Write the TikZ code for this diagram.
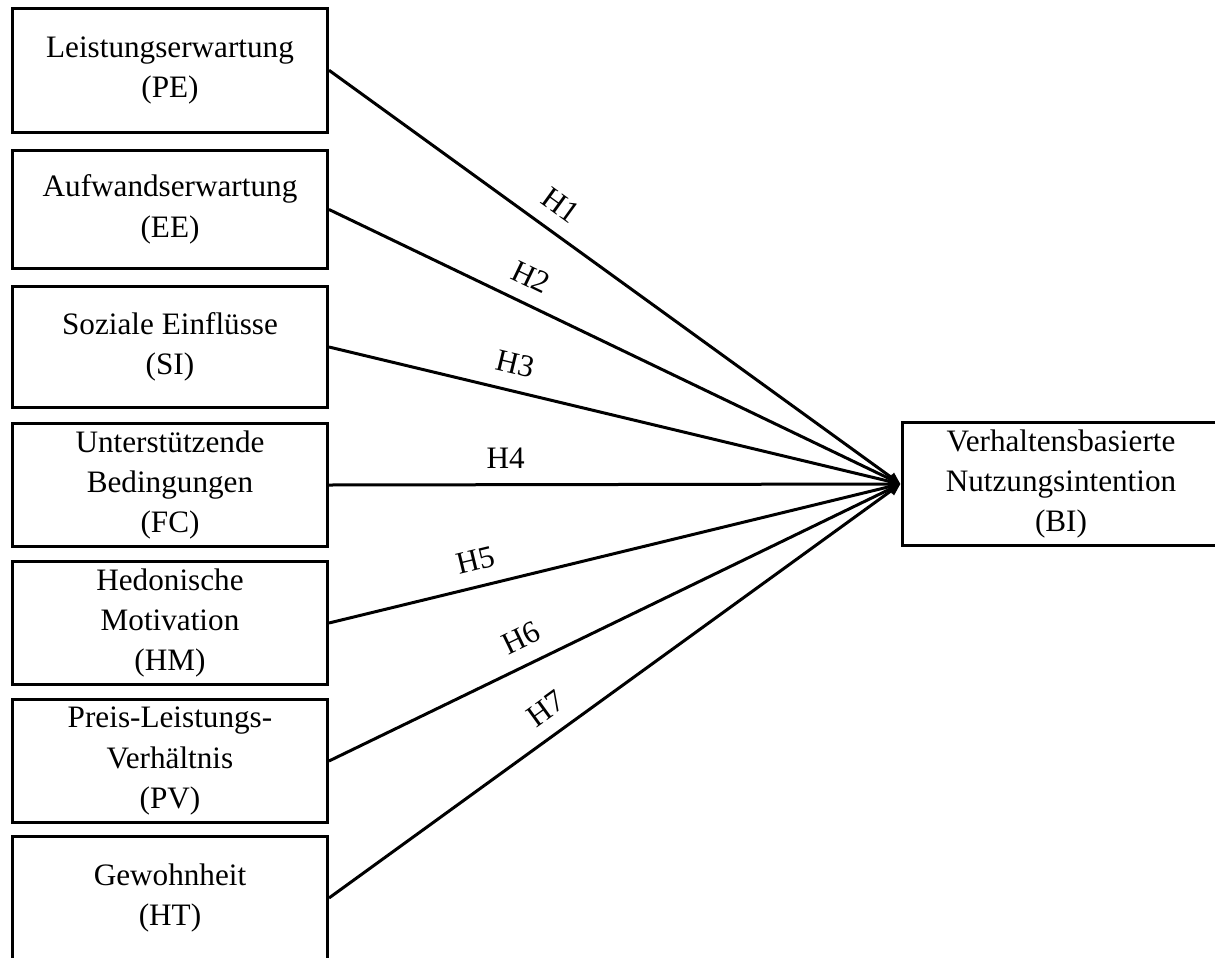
\documentclass[tikz,border=0pt]{standalone}
\usepackage{fontspec}
\setmainfont{Liberation Serif}
\usetikzlibrary{arrows.meta}
\begin{document}
\begin{tikzpicture}[x=0.5pt,y=-0.5pt,
  box/.style={draw, line width=1.5pt, minimum width=157.5pt, minimum height=61.25pt,
    inner sep=0pt, align=center, font=\fontsize{15.6}{19.2}\selectfont},
  link/.style={line width=1.5pt, -{Triangle[length=6pt,width=5pt]}},
  hyp/.style={font=\fontsize{15.6}{19.2}\selectfont, sloped, above=4pt}]
\useasboundingbox (0,0) rectangle (1215,958);

% predictor constructs
\node[box, minimum height=62.25pt] (PE) at (170,70.25) {Leistungserwartung\\[1pt](PE)};
\node[box, minimum height=59pt]    (EE) at (170,209.5) {Aufwandserwartung\\[1pt](EE)};
\node[box, minimum height=60.5pt]  (SI) at (170,347)   {Soziale Einflüsse\\[1pt](SI)};
\node[box] (FC) at (170,485) {Unterstützende\\[1pt]Bedingungen\\[1pt](FC)};
\node[box] (HM) at (170,623) {Hedonische\\[1pt]Motivation\\[1pt](HM)};
\node[box] (PV) at (170,761) {Preis-Leistungs-\\[1pt]Verhältnis\\[1pt](PV)};
\node[box, minimum height=62pt] (HT) at (170,898) {Gewohnheit\\[1pt](HT)};

% dependent construct
\node[box, minimum width=159pt] (BI) at (1061,484) {Verhaltensbasierte\\[1pt]Nutzungsintention\\[1pt](BI)};

% hypotheses
\draw[link] (PE.east) -- (BI.west) node[hyp, pos=0.378] {H1};
\draw[link] (EE.east) -- (BI.west) node[hyp, pos=0.333] {H2};
\draw[link] (SI.east) -- (BI.west) node[hyp, pos=0.315] {H3};
\draw[link] (FC.east) -- (BI.west) node[hyp, pos=0.309] {H4};
\draw[link] (HM.east) -- (BI.west) node[hyp, pos=0.267] {H5};
\draw[link] (PV.east) -- (BI.west) node[hyp, pos=0.357] {H6};
\draw[link] (HT.east) -- (BI.west) node[hyp, pos=0.406] {H7};
\end{tikzpicture}
\end{document}
